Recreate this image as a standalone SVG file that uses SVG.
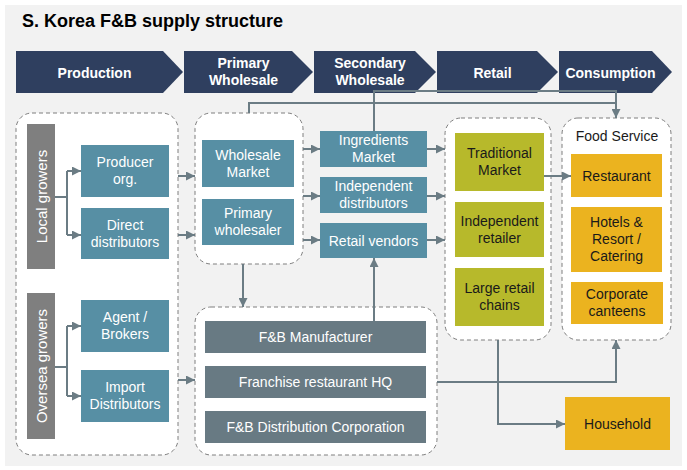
<svg xmlns="http://www.w3.org/2000/svg" width="687" height="470" viewBox="0 0 687 470">
<style>
text{font-family:"Liberation Sans",Arial,sans-serif;font-size:14px;text-anchor:middle}
.chev{fill:#2f3f5f}
.ct{fill:#fff;font-weight:bold}
.cont{fill:#fff;stroke:#7f7f7f;stroke-width:1;stroke-dasharray:4 3}
.teal{fill:#578fa4}
.slate{fill:#687a83}
.olive{fill:#b7b92b}
.orange{fill:#ebb31f}
.bar{fill:#7f7f7f}
.w{fill:#fff}
.d{fill:#1a1a1a}
.bt{fill:#fff;font-size:15px}
.con{fill:none;stroke:#6b7c84;stroke-width:2}
</style>
<defs>
<marker id="ah" markerUnits="userSpaceOnUse" markerWidth="9" markerHeight="9" refX="9" refY="4.5" orient="auto">
<path d="M0,0 L9,4.5 L0,9 z" fill="#6b7c84"/>
</marker>
</defs>
<rect x="5" y="5" width="677" height="461" fill="#f2f2f2"/>
<text x="22" y="27" style="font-size:18px;font-weight:bold;text-anchor:start;fill:#000">S. Korea F&amp;B supply structure</text>

<g id="stage-production"><path class="chev" d="M16,51 H163 L183,72 L163,93 H16 z"/><text class="ct" x="94.5" y="78">Production</text></g>
<g id="stage-primary"><path class="chev" d="M184,51 H292 L313,72 L292,93 H184 z"/><text class="ct" x="243.5" y="68">Primary</text><text class="ct" x="243.5" y="85">Wholesale</text></g>
<g id="stage-secondary"><path class="chev" d="M314,51 H415 L436,72 L415,93 H314 z"/><text class="ct" x="370" y="68">Secondary</text><text class="ct" x="370" y="85">Wholesale</text></g>
<g id="stage-retail"><path class="chev" d="M437,51 H537 L558,72 L537,93 H437 z"/><text class="ct" x="492.5" y="78">Retail</text></g>
<g id="stage-consumption"><path class="chev" d="M559,51 H652 L672,72 L652,93 H559 z"/><text class="ct" x="610.5" y="78">Consumption</text></g>

<g id="production-group"><rect class="cont" x="16" y="113" width="162" height="342" rx="16"/></g>
<g id="primary-group"><rect class="cont" x="195" y="113" width="108" height="151" rx="16"/></g>
<g id="retail-group"><rect class="cont" x="445" y="118" width="106" height="222" rx="16"/></g>
<g id="foodservice-group"><rect class="cont" x="562" y="118" width="109" height="222" rx="16"/><text class="d" x="617" y="141">Food Service</text></g>
<g id="processor-group"><rect class="cont" x="195" y="307" width="242" height="148" rx="16"/></g>

<g id="local-growers"><rect class="bar" x="27" y="124" width="28" height="145"/><text class="bt" transform="translate(46.5,196.5) rotate(-90)">Local growers</text></g>
<g id="oversea-growers"><rect class="bar" x="27" y="293" width="28" height="146"/><text class="bt" transform="translate(46.5,366) rotate(-90)">Oversea growers</text></g>

<g id="producer-org"><rect class="teal" x="81" y="145" width="88" height="52"/><text class="w" x="125" y="167">Producer</text><text class="w" x="125" y="184">org.</text></g>
<g id="direct-distributors"><rect class="teal" x="81" y="208" width="88" height="51"/><text class="w" x="125" y="230">Direct</text><text class="w" x="125" y="247">distributors</text></g>
<g id="agent-brokers"><rect class="teal" x="81" y="300" width="88" height="52"/><text class="w" x="125" y="322">Agent /</text><text class="w" x="125" y="339">Brokers</text></g>
<g id="import-distributors"><rect class="teal" x="81" y="370" width="88" height="52"/><text class="w" x="125" y="392">Import</text><text class="w" x="125" y="409">Distributors</text></g>

<g id="wholesale-market"><rect class="teal" x="202" y="140" width="92" height="47"/><text class="w" x="248" y="160">Wholesale</text><text class="w" x="248" y="177">Market</text></g>
<g id="primary-wholesaler"><rect class="teal" x="202" y="199" width="92" height="46"/><text class="w" x="248" y="218">Primary</text><text class="w" x="248" y="235">wholesaler</text></g>

<g id="ingredients-market"><rect class="teal" x="320" y="131" width="107" height="36"/><text class="w" x="373.5" y="145">Ingredients</text><text class="w" x="373.5" y="162">Market</text></g>
<g id="independent-distributors"><rect class="teal" x="320" y="177" width="107" height="36"/><text class="w" x="373.5" y="191">Independent</text><text class="w" x="373.5" y="208">distributors</text></g>
<g id="retail-vendors"><rect class="teal" x="320" y="223" width="107" height="35"/><text class="w" x="373.5" y="245.5">Retail vendors</text></g>

<g id="traditional-market"><rect class="olive" x="455" y="133" width="89" height="58"/><text class="d" x="499.5" y="158">Traditional</text><text class="d" x="499.5" y="175">Market</text></g>
<g id="independent-retailer"><rect class="olive" x="455" y="202" width="89" height="55"/><text class="d" x="499.5" y="226">Independent</text><text class="d" x="499.5" y="243">retailer</text></g>
<g id="large-retail-chains"><rect class="olive" x="455" y="268" width="89" height="58"/><text class="d" x="499.5" y="293">Large retail</text><text class="d" x="499.5" y="310">chains</text></g>

<g id="restaurant"><rect class="orange" x="571" y="154" width="91" height="43"/><text class="d" x="616.5" y="180.5">Restaurant</text></g>
<g id="hotels"><rect class="orange" x="571" y="207" width="91" height="65"/><text class="d" x="616.5" y="227">Hotels &amp;</text><text class="d" x="616.5" y="244">Resort /</text><text class="d" x="616.5" y="261">Catering</text></g>
<g id="corporate-canteens"><rect class="orange" x="571" y="282" width="92" height="42"/><text class="d" x="617" y="299">Corporate</text><text class="d" x="617" y="316">canteens</text></g>
<g id="household"><rect class="orange" x="565" y="397" width="105" height="53"/><text class="d" x="617.5" y="428.5">Household</text></g>

<g id="fb-manufacturer"><rect class="slate" x="205" y="321" width="221" height="32"/><text class="w" x="315.5" y="342">F&amp;B Manufacturer</text></g>
<g id="franchise-hq"><rect class="slate" x="205" y="366" width="221" height="32"/><text class="w" x="315.5" y="387">Franchise restaurant HQ</text></g>
<g id="fb-distribution"><rect class="slate" x="205" y="411" width="221" height="32"/><text class="w" x="315.5" y="432">F&amp;B Distribution Corporation</text></g>

<g id="connectors">
<path class="con" d="M55,197 H67 M67,171 V235 M55,367 H67 M67,326 V396"/>
<path class="con" d="M67,171 H81" marker-end="url(#ah)"/>
<path class="con" d="M67,235 H81" marker-end="url(#ah)"/>
<path class="con" d="M67,326 H81" marker-end="url(#ah)"/>
<path class="con" d="M67,396 H81" marker-end="url(#ah)"/>
<path class="con" d="M178,176 H195" marker-end="url(#ah)"/>
<path class="con" d="M178,235 H195" marker-end="url(#ah)"/>
<path class="con" d="M178,380 H195" marker-end="url(#ah)"/>
<path class="con" d="M303,149 H320" marker-end="url(#ah)"/>
<path class="con" d="M303,196 H320" marker-end="url(#ah)"/>
<path class="con" d="M303,240 H320" marker-end="url(#ah)"/>
<path class="con" d="M427,149 H445" marker-end="url(#ah)"/>
<path class="con" d="M427,196 H445" marker-end="url(#ah)"/>
<path class="con" d="M427,240 H445" marker-end="url(#ah)"/>
<path class="con" d="M544,176 H571" marker-end="url(#ah)"/>
<path class="con" d="M374,131 V91 H616 V103"/>
<path class="con" d="M249,113 V103 H616 V118" marker-end="url(#ah)"/>
<path class="con" d="M243,264 V307" marker-end="url(#ah)"/>
<path class="con" d="M374,321 V258" marker-end="url(#ah)"/>
<path class="con" d="M437,382 H616 V340" marker-end="url(#ah)"/>
<path class="con" d="M498,340 V424 H565" marker-end="url(#ah)"/>
</g>
</svg>
